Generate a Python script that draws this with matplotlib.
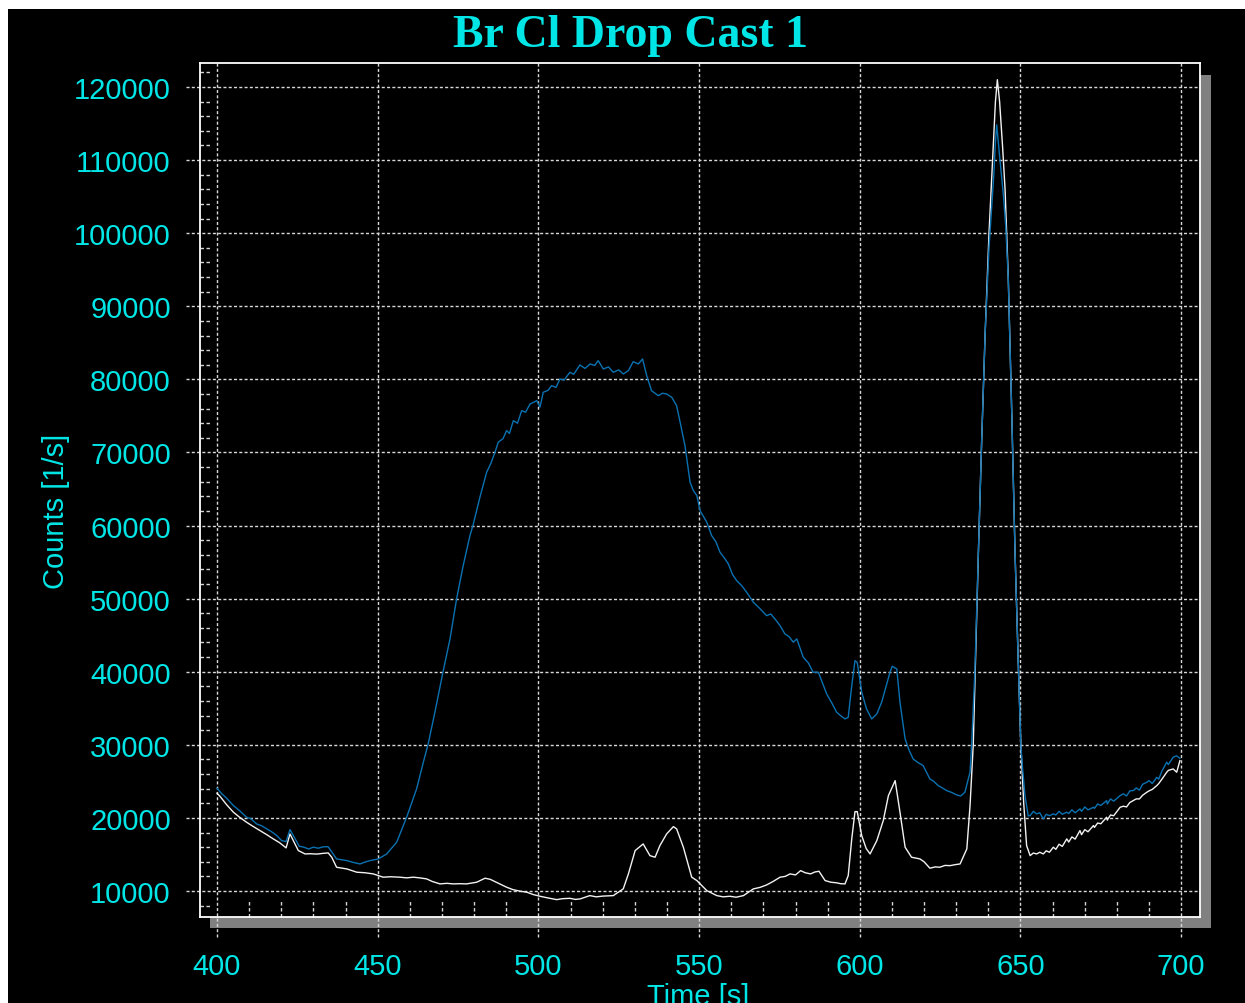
import numpy as np
import matplotlib
matplotlib.use("Agg")
import matplotlib.pyplot as plt
from matplotlib.patches import Rectangle

# ---------------- data ----------------
title_text = "Br Cl Drop Cast 1"
xlabel_text = "Time [s]"
ylabel_text = "Counts [1/s]"
x_major = [400, 450, 500, 550, 600, 650, 700]
y_major = [10000, 20000, 30000, 40000, 50000, 60000, 70000, 80000,
           90000, 100000, 110000, 120000]
x_minor = [410, 420, 430, 440, 460, 470, 480, 490, 510, 520, 530, 540,
           560, 570, 580, 590, 610, 620, 630, 640, 660, 670, 680, 690]
y_minor = [8000, 12000, 14000, 16000, 18000, 22000, 24000, 26000, 28000,
           32000, 34000, 36000, 38000, 42000, 44000, 46000, 48000,
           52000, 54000, 56000, 58000, 62000, 64000, 66000, 68000,
           72000, 74000, 76000, 78000, 82000, 84000, 86000, 88000,
           92000, 94000, 96000, 98000, 102000, 104000, 106000, 108000,
           112000, 114000, 116000, 118000, 122000]

blue_t = [400, 401.5, 403, 405.1, 407, 409.2, 410.5, 412.3, 414, 415.5, 417, 418.6,
          420.1, 421.5, 422.7, 424.3, 425.6, 427, 428.5, 430, 431.5, 433, 434.6,
          437.2, 440.4, 442.5, 444.5, 446, 447.6, 450.2, 452.8, 455.9, 459, 462.1,
          464.2, 465.7, 467.8, 470.4, 472.5, 474.6, 476.6, 478.7, 479.7, 481.8,
          483.9, 485.2, 486.5, 487.5, 489, 490.1, 491, 492.2, 493.5, 494.8, 496,
          497.4, 499.5, 500.5, 501.5, 503, 504.1, 505.5, 506.7, 508, 509.8, 511,
          512.9, 514.5, 516.1, 517.5, 518.6, 520.2, 521.8, 523.3, 525, 526.4, 528,
          529.5, 531.1, 532.4, 533.7, 535.2, 537.3, 538.6, 539.9, 541.5, 543,
          544.1, 545.6, 547.2, 548.2, 549.3, 550.3, 552.4, 553.9, 555.2, 556.5,
          557.8, 559.1, 560.4, 561.7, 563.2, 564.8, 566.9, 569, 571, 572.3, 573.6,
          575.2, 576.7, 578, 579.3, 580.4, 582.4, 584, 585.5, 587.1, 589.7, 591.2,
          592.8, 594, 595.4, 596.4, 597.5, 598.5, 599.2, 600.6, 602.1, 603.7,
          605.3, 606.8, 607.8, 609.4, 610.1, 611.5, 612.5, 614.1, 615.3, 616.6,
          618, 619.7, 621.8, 623, 624.4, 625.7, 627, 628.5, 630.1, 631.4, 632.7,
          634.3, 634.8, 635.8, 636.9, 637.9, 639, 640.2, 641.7, 642.2, 642.6,
          643.4, 644.7, 645.4, 646.2, 647.3, 648.3, 649.3, 650.1, 650.6, 651.4,
          652.4, 653, 654, 655, 656, 657.1, 658, 659, 660.2, 661, 662, 663, 664.4,
          665, 666, 667, 668.5, 669, 670, 671, 672.7, 673, 674, 675, 676.8, 677,
          678, 679, 681, 682, 683, 684, 685.1, 686, 687, 688, 689.3, 690, 691,
          692.4, 693, 694, 695.5, 696, 697.5, 698.5, 699.6]
blue_c = [24060, 23300, 22700, 21690, 21000, 20090, 19900, 19180, 18900, 18500, 18100, 17580,
          16900, 16760, 18400, 17130, 16120, 16000, 15750, 16000, 15850, 16050, 16050,
          14390, 14160, 13900, 13700, 13950, 14160, 14390, 15070, 16670, 20090, 23970,
          27620, 30120, 34460, 40150, 44490, 50100, 54520, 58620, 60120, 63870,
          67290, 68500, 70030, 71400, 71900, 72990, 72600, 74350, 74000, 75720, 75500,
          76630, 77090, 76200, 78230, 78500, 79140, 78900, 80050, 79900, 80970, 80700,
          81970, 81500, 82110, 81900, 82560, 81420, 81700, 80970, 81300, 80740, 81190,
          82420, 82110, 82790, 80510, 78450, 77770, 78100, 78000, 77540, 76400,
          74130, 70930, 65920, 64800, 64090, 62040, 60450, 58620, 57800, 56350,
          55600, 54750, 53300, 52460, 51800, 50870, 49500, 48600, 47670, 47900, 47220,
          46300, 45170, 44800, 44040, 44490, 41990, 41200, 39930, 39930, 36960, 35800,
          34460, 34000, 33540, 33770, 38100, 41520, 41290, 37190, 34910, 33540,
          34230, 35830, 37410, 39930, 40750, 40380, 35830, 30810, 29300, 28070,
          27600, 27160, 25330, 25000, 24420, 24100, 23740, 23500, 23150, 23000, 23510,
          26250, 30030, 40000, 56300, 71300, 86300, 98000, 108000, 112500, 114830,
          111000, 105100, 101000, 93820, 75050, 56300, 41290, 30030, 27000, 23050,
          20270, 20320, 20900, 20550, 20700, 19860, 20500, 20300, 20550, 20400, 20900, 20500, 20780,
          20600, 21100, 20700, 21230, 20900, 21500, 21100, 21460, 21300, 21900, 21700, 22370, 21900,
          22600, 22300, 23050, 23300, 23000, 23700, 23740, 24100, 23800, 24600, 24880, 25100, 24700,
          25560, 25300, 26400, 27620, 27300, 28300, 28500, 28160]

white_t = [400, 400.9, 403, 405.1, 407, 409.2, 411, 413.4, 415.5, 417.5, 419.5, 421.2,
           421.5, 422.7, 425.3, 427.4, 429, 431, 433, 434.6, 435.7, 437.2, 440.4,
           443.5, 446, 448.6, 451.7, 454, 456.9, 459, 461.1, 463, 465.2, 467, 469.4,
           471.5, 473.5, 475.5, 477.6, 480.8, 483.4, 485, 488, 490.1, 492, 494,
           496.4, 498.5, 500.5, 503, 505.7, 507.5, 509.8, 511.5, 513, 516, 518,
           520, 523.3, 526.4, 528, 530.1, 532.6, 534.7, 536.3, 537.8, 539.9, 542,
           543, 545.1, 547.7, 549.3, 552.4, 555.5, 557.5, 559.6, 561.5, 563.8,
           566.9, 569, 571, 573, 575.2, 576.8, 578.3, 580, 581.6, 583, 584.7, 586,
           587.3, 589.2, 591, 592.8, 594, 595.4, 596.4, 597.5, 598.5, 599.2, 600.6,
           602, 603.2, 605.3, 607.3, 608.9, 611, 612.5, 614.1, 616.1, 618.7, 620,
           621.8, 623.5, 624.9, 626.5, 628.1, 629.6, 631.2, 633.3, 634.3, 635.3,
           636.9, 637.9, 639, 640.2, 641.3, 642.2, 642.8, 643.5, 644.4, 645.2, 646.2,
           647.3, 648.3, 649.3, 650.1, 651, 651.9, 653, 654, 655, 656, 657.1, 658,
           659, 660.2, 661, 662, 663, 664.4, 665, 666, 667, 668.5, 669, 670, 671,
           672.7, 673, 674, 675, 676.8, 677, 678, 679, 681, 682, 683, 684, 685.1,
           686, 687, 688, 689.3, 690, 691, 692.4, 693, 694, 695.5, 696, 697.5,
           698.6, 699.6]
white_c = [23380, 22970, 21800, 20780, 20100, 19410, 18900, 18260, 17700, 17130, 16600, 16000,
           15900, 17810, 15530, 15070, 15100, 15050, 15150, 15210, 14620, 13250, 13020,
           12570, 12500, 12340, 11890, 11950, 11890, 11800, 11890, 11800, 11660, 11300, 10970,
           11050, 10970, 11000, 10970, 11200, 11750, 11600, 10970, 10520, 10200, 10000,
           9830, 9500, 9280, 9050, 8820, 8950, 9000, 8850, 8920, 9370, 9200,
           9300, 9370, 10290, 12340, 15530, 16440, 14840, 14620, 16210, 17810, 18810,
           18500, 15990, 11890, 11430, 10050, 9370, 9200, 9280, 9150, 9370,
           10290, 10500, 10830, 11300, 11890, 12000, 12340, 12200, 12790, 12500, 12340, 12600,
           12700, 11430, 11200, 11120, 11000, 10970, 12110, 17140, 20860, 20860, 17580,
           15800, 15070, 16900, 19630, 23050, 25100, 20780, 15990, 14620, 14390, 14000,
           13120, 13300, 13250, 13500, 13470, 13600, 13700, 15760, 21680, 30000,
           56300, 71300, 86300, 100000, 110000, 118000, 121000, 118000, 112000, 106000, 93820,
           75050, 56300, 41290, 30030, 22000, 16210, 14840, 15200, 15070, 15300, 15070, 15500,
           15300, 15990, 15700, 16400, 16100, 17130, 16700, 17400, 17100, 18260, 17700, 18400, 18100,
           18950, 18700, 19300, 19200, 20090, 19700, 20400, 20300, 21460, 21600, 21500, 22100, 22370,
           22600, 22600, 23100, 23510, 23700, 23900, 24420, 24700, 25300, 26250, 26500, 26700,
           26250, 27840]

# ---------------- style ----------------
W, H = 1245, 1004
CYAN = "#00e6e6"
BLUE = "#0a72b2"
WHITE_LINE = "#f2f2f2"
GRID = "#d8d8d8"

fig = plt.figure(figsize=(W / 100, H / 100), dpi=100, facecolor="white")
# black canvas
fig.add_artist(Rectangle((8 / W, 0), 1 - 8 / W, 1 - 10 / H, transform=fig.transFigure,
                         facecolor="black", edgecolor="none", zorder=-20))
# grey drop shadow of the plot frame
fig.add_artist(Rectangle((210 / W, (H - 929) / H), 1001 / W, (929 - 76) / H,
                         transform=fig.transFigure, facecolor="#808080",
                         edgecolor="none", zorder=-10))

ax = fig.add_axes([200 / W, (H - 918) / H, 1000 / W, 854 / H])
ax.set_facecolor("black")
ax.set_xlim(394.71, 705.85)
ax.set_ylim(6443, 123284)

for s in ax.spines.values():
    s.set_color("white")
    s.set_linewidth(1.3)

dash = (0, (2.2, 1.6))
ytr = ax.get_yaxis_transform()
xtr = ax.get_xaxis_transform()
ax.hlines(y_major, -0.014, 1, transform=ytr, colors=GRID, linewidth=1.0,
          linestyles=[dash], clip_on=False, zorder=1)
ax.vlines(x_major, -0.0234, 1, transform=xtr, colors=GRID, linewidth=1.0,
          linestyles=[dash], clip_on=False, zorder=1)
ax.hlines(y_minor, 0, 0.0095, transform=ytr, colors=GRID, linewidth=1.0,
          linestyles=[(0, (2.5, 1.8))], zorder=1)
ax.vlines(x_minor, 0, 0.019, transform=xtr, colors=GRID, linewidth=1.0,
          linestyles=[(0, (2.5, 1.8))], zorder=1)

ax.plot(white_t, white_c, color=WHITE_LINE, linewidth=1.0, zorder=3)
ax.plot(blue_t, blue_c, color=BLUE, linewidth=1.0, zorder=4)

ax.set_xticks(x_major)
ax.set_yticks(y_major)
ax.set_xticklabels([str(v) for v in x_major])
ax.set_yticklabels([str(v) for v in y_major])
ax.tick_params(axis="both", length=0, labelcolor=CYAN, labelsize=21)
ax.tick_params(axis="x", pad=25)
ax.tick_params(axis="y", pad=21)
for lab in ax.get_xticklabels() + ax.get_yticklabels():
    lab.set_fontfamily("Liberation Sans")

fig.text(631 / W, 1 - 36 / H, title_text, color=CYAN, fontsize=33,
         fontfamily="Liberation Serif", fontweight="bold", ha="center", va="center")
fig.text(56 / W, 1 - 511 / H, ylabel_text, color=CYAN, fontsize=21,
         fontfamily="Liberation Sans", rotation=90, ha="center", va="center")
fig.text(698 / W, 1 - 983 / H, xlabel_text, color=CYAN, fontsize=21,
         fontfamily="Liberation Sans", ha="center", va="top")

fig.savefig("out.png", dpi=100, facecolor=fig.get_facecolor())
